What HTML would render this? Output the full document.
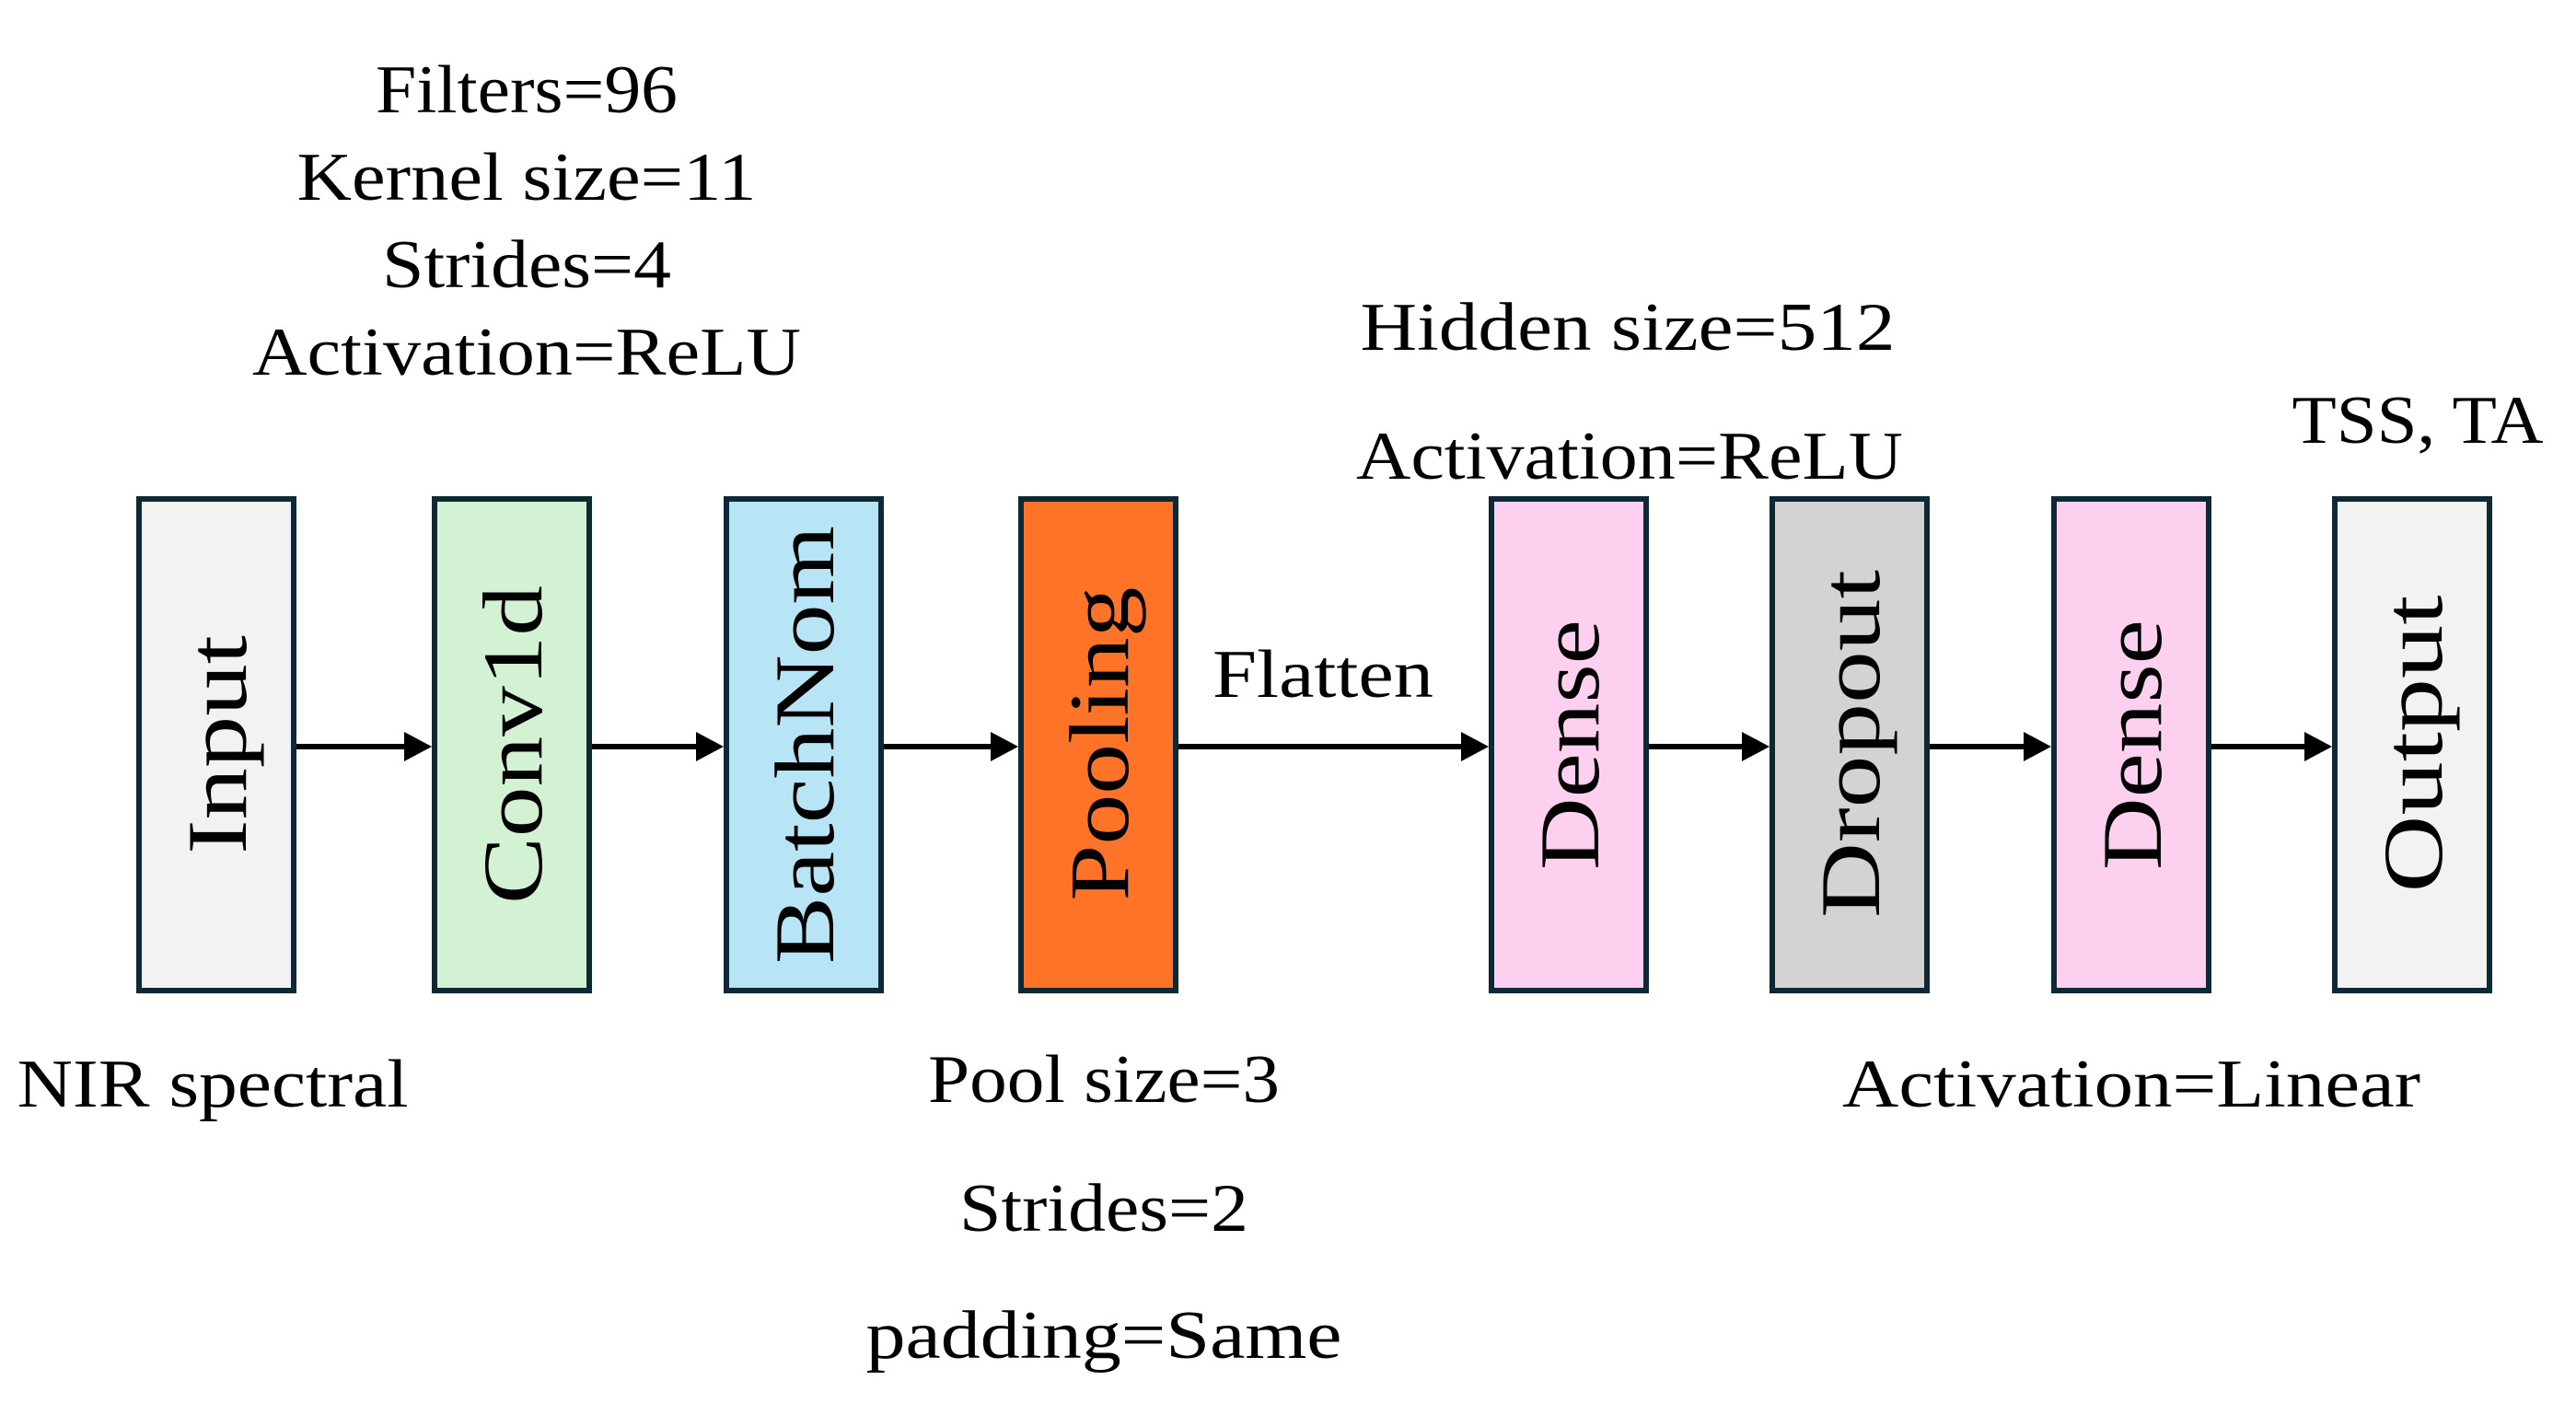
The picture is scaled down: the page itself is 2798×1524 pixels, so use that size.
<!DOCTYPE html>
<html><head><meta charset="utf-8"><style>
html,body{margin:0;padding:0;background:#fff;}
svg{display:block;}
text{font-family:"Liberation Serif",serif;fill:#000;}
</style></head><body>
<svg width="2798" height="1524" viewBox="0 0 2798 1524" xmlns="http://www.w3.org/2000/svg">
<g stroke="#0e2836" stroke-width="6">
<rect x="151" y="542" width="168" height="534" fill="#f2f2f2"/>
<rect x="472" y="542" width="168" height="534" fill="#d3f2d3"/>
<rect x="789" y="542" width="168" height="534" fill="#b8e5f6"/>
<rect x="1109" y="542" width="168" height="534" fill="#fd7428"/>
<rect x="1620" y="542" width="168" height="534" fill="#fdd0ef"/>
<rect x="1925" y="542" width="168" height="534" fill="#d3d3d3"/>
<rect x="2231" y="542" width="168" height="534" fill="#fdd0ef"/>
<rect x="2536" y="542" width="168" height="534" fill="#f2f2f2"/>
</g>
<g stroke="#000" stroke-width="6">
<line x1="322" y1="811" x2="445" y2="811"/>
<line x1="643" y1="811" x2="762" y2="811"/>
<line x1="960" y1="811" x2="1082" y2="811"/>
<line x1="1280" y1="811" x2="1593" y2="811"/>
<line x1="1791" y1="811" x2="1898" y2="811"/>
<line x1="2096" y1="811" x2="2204" y2="811"/>
<line x1="2402" y1="811" x2="2509" y2="811"/>
</g>
<g fill="#000">
<polygon points="469,811 439,795 439,827"/>
<polygon points="786,811 756,795 756,827"/>
<polygon points="1106,811 1076,795 1076,827"/>
<polygon points="1617,811 1587,795 1587,827"/>
<polygon points="1922,811 1892,795 1892,827"/>
<polygon points="2228,811 2198,795 2198,827"/>
<polygon points="2533,811 2503,795 2503,827"/>
</g>
<g font-size="92" text-anchor="middle">
<text transform="translate(267,809) rotate(-90)" textLength="238" lengthAdjust="spacingAndGlyphs">Input</text>
<text transform="translate(588,809) rotate(-90)" textLength="346" lengthAdjust="spacingAndGlyphs">Conv1d</text>
<text transform="translate(905,809) rotate(-90)" textLength="476" lengthAdjust="spacingAndGlyphs">BatchNom</text>
<text transform="translate(1225,808) rotate(-90)" textLength="341" lengthAdjust="spacingAndGlyphs">Pooling</text>
<text transform="translate(1736,809) rotate(-90)" textLength="272" lengthAdjust="spacingAndGlyphs">Dense</text>
<text transform="translate(2041,808) rotate(-90)" textLength="378" lengthAdjust="spacingAndGlyphs">Dropout</text>
<text transform="translate(2347,809) rotate(-90)" textLength="272" lengthAdjust="spacingAndGlyphs">Dense</text>
<text transform="translate(2652,808) rotate(-90)" textLength="323" lengthAdjust="spacingAndGlyphs">Output</text>
</g>
<g font-size="74" text-anchor="middle">
<text x="572" y="122" textLength="328" lengthAdjust="spacingAndGlyphs">Filters=96</text>
<text x="572" y="217" textLength="499" lengthAdjust="spacingAndGlyphs">Kernel size=11</text>
<text x="572" y="312" textLength="314" lengthAdjust="spacingAndGlyphs">Strides=4</text>
<text x="572" y="407" textLength="596" lengthAdjust="spacingAndGlyphs">Activation=ReLU</text>
<text x="1768" y="380" textLength="581" lengthAdjust="spacingAndGlyphs">Hidden size=512</text>
<text x="1770" y="520" textLength="594" lengthAdjust="spacingAndGlyphs">Activation=ReLU</text>
<text x="2626" y="481" textLength="273" lengthAdjust="spacingAndGlyphs">TSS, TA</text>
<text x="1437" y="757" textLength="240" lengthAdjust="spacingAndGlyphs">Flatten</text>
<text x="231" y="1202" textLength="425" lengthAdjust="spacingAndGlyphs">NIR spectral</text>
<text x="1199" y="1197" textLength="382" lengthAdjust="spacingAndGlyphs">Pool size=3</text>
<text x="1199" y="1337" textLength="314" lengthAdjust="spacingAndGlyphs">Strides=2</text>
<text x="1199" y="1475" textLength="517" lengthAdjust="spacingAndGlyphs">padding=Same</text>
<text x="2315" y="1202" textLength="628" lengthAdjust="spacingAndGlyphs">Activation=Linear</text>
</g>
</svg>
</body></html>
